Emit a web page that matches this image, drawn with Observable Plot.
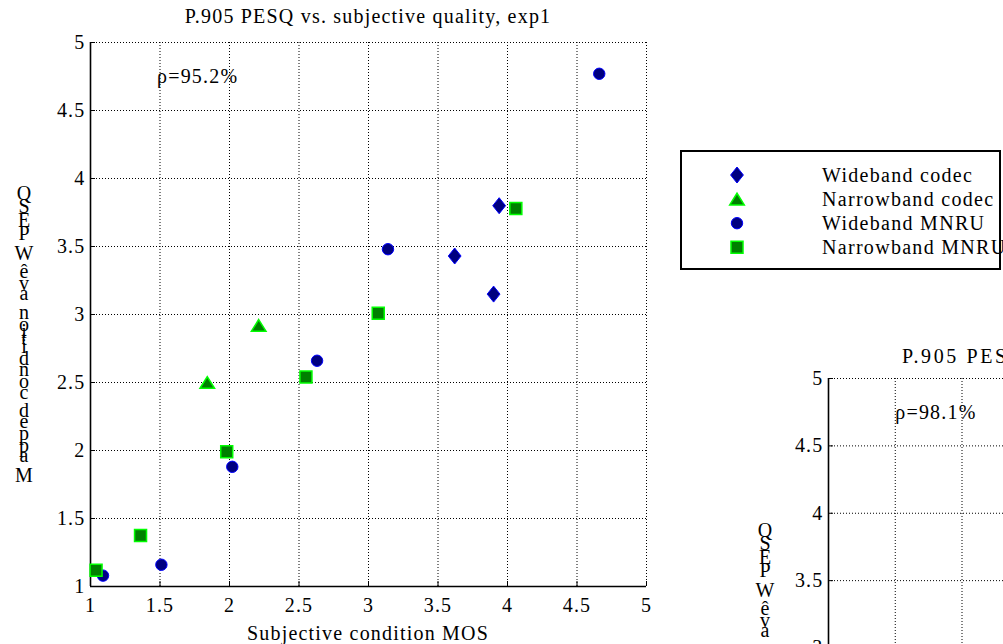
<!DOCTYPE html>
<html><head><meta charset="utf-8">
<script src="https://cdn.jsdelivr.net/npm/d3@7"></script>
<script src="https://cdn.jsdelivr.net/npm/@observablehq/plot@0.6"></script>
<style>
html,body{margin:0;padding:0;background:#fff;overflow:hidden;}
#wrap{position:relative;width:1003px;height:644px;overflow:hidden;background:#fff;}
#wrap svg{position:absolute;left:0;top:0;}
</style></head><body><div id="wrap"></div>
<script>
// ---- data ----
const seriesNames = ["Wideband codec", "Narrowband codec", "Wideband MNRU", "Narrowband MNRU"];
const wbCodecX = [3.94, 3.62, 3.90];
const wbCodecY = [3.80, 3.43, 3.15];
const nbCodecX = [1.84, 2.21];
const nbCodecY = [2.50, 2.92];
const wbMnruX = [1.09, 1.51, 2.02, 2.63, 3.14, 4.66];
const wbMnruY = [1.08, 1.16, 1.88, 2.66, 3.48, 4.77];
const nbMnruX = [1.04, 1.36, 1.98, 2.55, 3.07, 4.06];
const nbMnruY = [1.12, 1.375, 1.99, 2.54, 3.01, 3.78];
const axisTicks = [1, 1.5, 2, 2.5, 3, 3.5, 4, 4.5, 5];
const tickLabels = ["1", "1.5", "2", "2.5", "3", "3.5", "4", "4.5", "5"];
const titleText = "P.905 PESQ vs. subjective quality, exp1";
const title2Text = "P.905 PESQ vs. subjective quality, exp2";
const xLabelText = "Subjective condition MOS";
const yLabelText = "Mapped condition avê WPESQ";
const rhoText = "ρ=95.2%";
const rho2Text = "ρ=98.1%";
const rhoPos = [1.5, 4.75];

// ---- styles ----
const font = "'Liberation Serif', 'Times New Roman', serif";
const diamondSym = {draw(ctx, size) { const r = Math.sqrt(size / Math.PI), h = r * 1.25;
  ctx.moveTo(0, -h); ctx.lineTo(r, 0); ctx.lineTo(0, h); ctx.lineTo(-r, 0); ctx.closePath(); }};
const triSym = {draw(ctx, size) { const r = Math.sqrt(size / Math.PI), h = r * 0.8;
  ctx.moveTo(0, -h); ctx.lineTo(r, h); ctx.lineTo(-r, h); ctx.closePath(); }};
const squareSym = {draw(ctx, size) { const r = Math.sqrt(size / Math.PI);
  ctx.moveTo(-r, -r); ctx.lineTo(r, -r); ctx.lineTo(r, r); ctx.lineTo(-r, r); ctx.closePath(); }};
const seriesStyle = [
  {symbol: diamondSym, r: 6.4, fill: "#000080", stroke: "#0000ff", strokeWidth: 1},
  {symbol: triSym, r: 7.3, fill: "#008000", stroke: "#00ff00", strokeWidth: 1.5},
  {symbol: d3.symbolCircle, r: 5.7, fill: "#000080", stroke: "#0000ff", strokeWidth: 1},
  {symbol: squareSym, r: 6, fill: "#008000", stroke: "#00ff00", strokeWidth: 1.5}
];
const seriesData = [
  wbCodecX.map((x, i) => ({x, y: wbCodecY[i]})),
  nbCodecX.map((x, i) => ({x, y: nbCodecY[i]})),
  wbMnruX.map((x, i) => ({x, y: wbMnruY[i]})),
  nbMnruX.map((x, i) => ({x, y: nbMnruY[i]}))
];
const fmt = d => tickLabels[axisTicks.indexOf(d)];
const lo = axisTicks[0];

function frameMarks() {
  return [
    Plot.gridX(axisTicks, {stroke: "#000", strokeOpacity: 1, strokeWidth: 1, strokeDasharray: "1,2"}),
    Plot.gridY(axisTicks, {stroke: "#000", strokeOpacity: 1, strokeWidth: 1, strokeDasharray: "1,2"}),
    // inward tick marks (MATLAB style)
    Plot.ruleX(axisTicks, {x: d => d, y1: lo, y2: lo, insetTop: -5, stroke: "#000", strokeWidth: 1}),
    Plot.ruleY(axisTicks, {y: d => d, x1: lo, x2: lo, insetRight: -5, stroke: "#000", strokeWidth: 1}),
    Plot.axisX(axisTicks, {tickSize: 0, tickPadding: 11, tickFormat: fmt, fontSize: 20, label: null}),
    Plot.axisY(axisTicks, {tickSize: 0, tickPadding: 5, tickFormat: fmt, fontSize: 20, label: null}),
    Plot.ruleX([lo], {stroke: "#000", strokeWidth: 1.6}),
    Plot.ruleY([lo], {stroke: "#000", strokeWidth: 1.6})
  ];
}
const baseStyle = {fontFamily: font, fontSize: "20px", letterSpacing: "1.2px", color: "#000",
  background: "transparent", maxWidth: "none", overflow: "visible"};

const main = Plot.plot({
  width: 1003, height: 644,
  marginLeft: 90, marginRight: 357, marginTop: 42, marginBottom: 58,
  style: baseStyle,
  x: {domain: [1, 5], label: null},
  y: {domain: [1, 5], label: null},
  marks: [
    ...frameMarks(),
    ...seriesData.map((data, k) => Plot.dot(data, {x: "x", y: "y", ...seriesStyle[k]})),
    Plot.text([rhoText], {x: () => rhoPos[0], y: () => rhoPos[1], text: d => d, textAnchor: "start", lineAnchor: "middle", fontSize: 20, dx: -3})
  ]
});

const second = Plot.plot({
  width: 1372, height: 975,
  marginLeft: 828, marginRight: 10, marginTop: 378, marginBottom: 58,
  style: baseStyle,
  x: {domain: [1, 5], label: null},
  y: {domain: [1, 5], label: null},
  marks: [
    ...frameMarks(),
    Plot.text([rho2Text], {x: () => rhoPos[0], y: () => rhoPos[1], text: d => d, textAnchor: "start", lineAnchor: "middle", fontSize: 20})
  ]
});

const wrap = document.getElementById("wrap");
wrap.appendChild(main);
wrap.appendChild(second);

const measure = document.createElement("canvas").getContext("2d");
measure.font = "20px 'Liberation Serif'";
function stackedLabel(svg, text, cx, baseY) {
  const t = svg.append("text").attr("font-family", font).attr("font-size", 20)
    .attr("text-anchor", "middle").attr("fill", "#000").style("letter-spacing", "0px");
  let y = baseY;
  for (const ch of text) {
    if (ch !== " ") t.append("tspan").attr("x", cx).attr("y", y).text(ch);
    y -= measure.measureText(ch).width + 1.8;
  }
}
function addText(svg, str, x, y, anchor, ls = 1.2) {
  svg.append("text").attr("x", x).attr("y", y).attr("text-anchor", anchor)
    .attr("font-family", font).attr("font-size", 20).attr("fill", "#000")
    .style("letter-spacing", ls + "px").text(str);
}

const s1 = d3.select(main);
addText(s1, titleText, 368, 23, "middle");
addText(s1, xLabelText, 368, 640, "middle");
stackedLabel(s1, yLabelText, 24, 482);

// legend
const lg = s1.append("g");
lg.append("rect").attr("x", 681).attr("y", 151).attr("width", 319).attr("height", 118)
  .attr("fill", "#fff").attr("stroke", "#000").attr("stroke-width", 2);
seriesNames.forEach((name, k) => {
  const st = seriesStyle[k];
  const cy = 175 + k * 24.1;
  lg.append("path")
    .attr("d", d3.symbol(st.symbol, Math.PI * st.r * st.r)())
    .attr("transform", `translate(737,${cy})`)
    .attr("fill", st.fill).attr("stroke", st.stroke).attr("stroke-width", st.strokeWidth);
  addText(lg, name, 822, cy + 6.5, "start", 1.3);
});

const s2 = d3.select(second);
addText(s2, title2Text, 902, 363, "start", 2.6);
stackedLabel(s2, yLabelText, 765, 819);
</script></body></html>
